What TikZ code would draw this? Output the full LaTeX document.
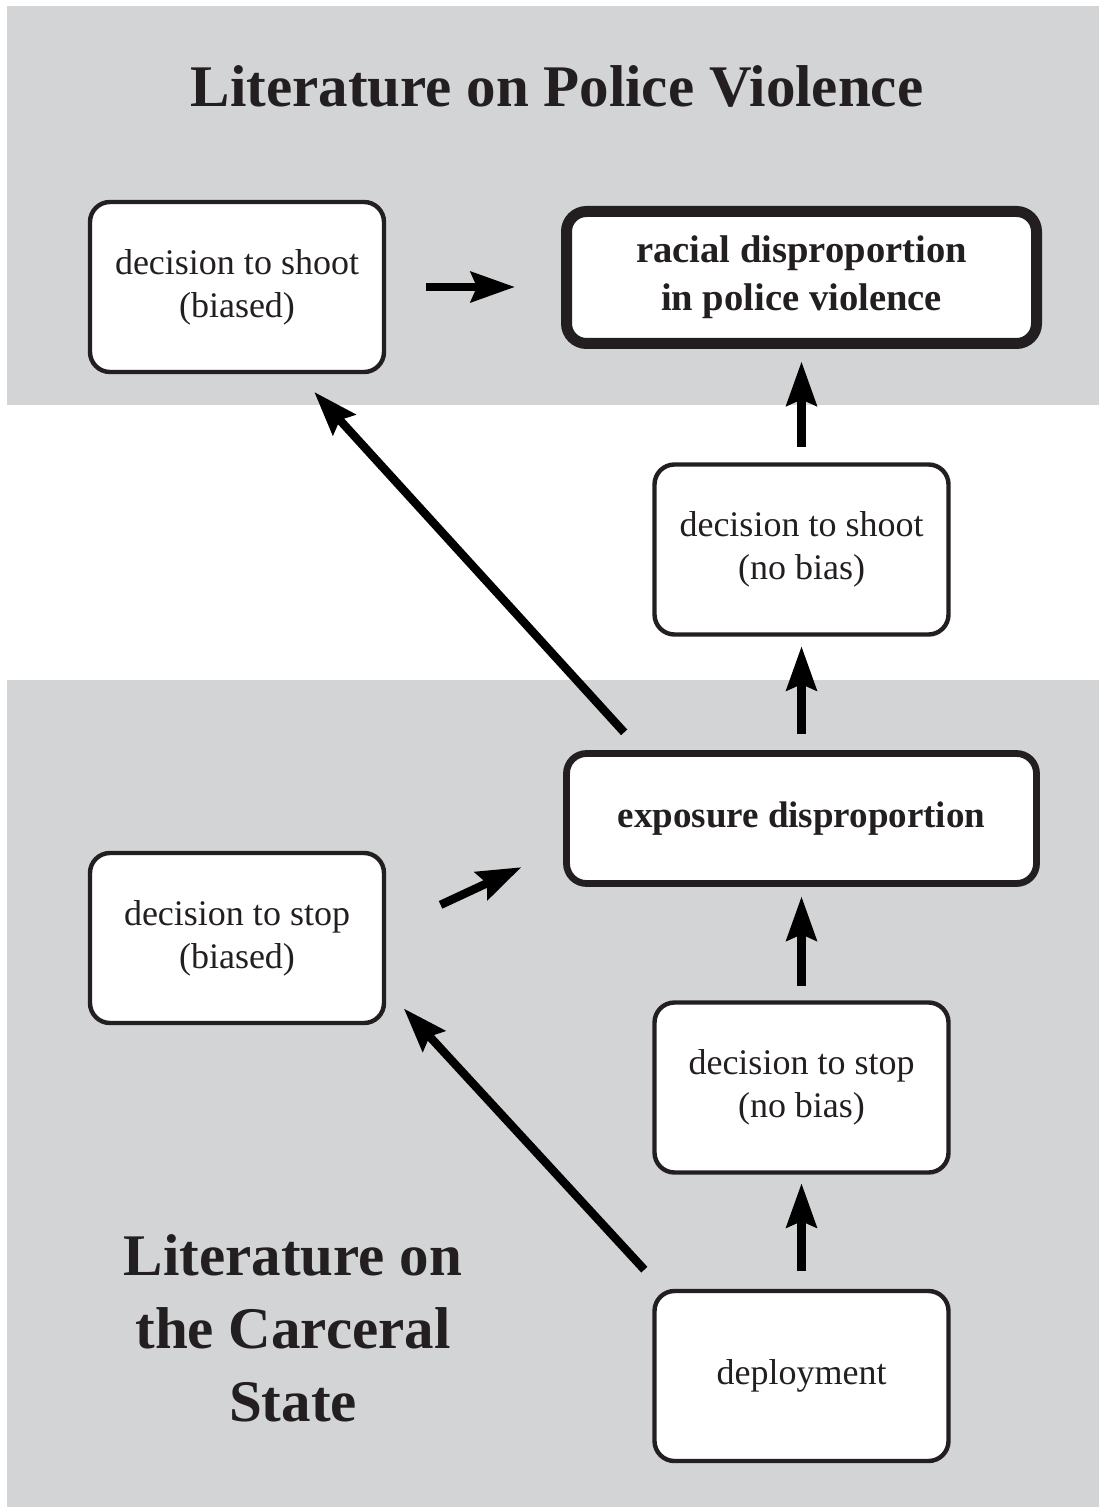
\documentclass[tikz,border=0pt]{standalone}
\usepackage{fontspec}
\setmainfont{Liberation Serif}
\usetikzlibrary{arrows.meta}
\definecolor{litgray}{HTML}{D3D4D5}
\definecolor{litink}{HTML}{231F20}
\tikzset{
  stepBox/.style={draw=litink, fill=white, rounded corners=10pt, line width=2.2pt, minimum width=147pt, minimum height=85pt, inner sep=0pt, align=center, text=litink, font=\fontsize{18}{21.5}\selectfont},
  keyBox/.style={stepBox, line width=3.4pt, minimum width=235pt, minimum height=65pt, font=\fontsize{18.5}{24}\selectfont\bfseries},
  outBox/.style={keyBox, line width=5.5pt, minimum height=66pt},
  litArrow/.style={-{Stealth[length=22pt,width=15pt,inset=3pt]}, line width=4.2pt, draw=black},
  litTitle/.style={font=\fontsize{29.5}{36.5}\selectfont\bfseries, text=litink, align=center}
}

\begin{document}
\begin{tikzpicture}[x=0.5pt, y=-0.5pt]
  \useasboundingbox (0,0) rectangle (1099,1507);
  % the two bands of literature
  \fill[litgray] (7,6) rectangle (1099,405);
  \fill[litgray] (7,680) rectangle (1099,1507);

  \node[litTitle] (policeLit) at (557,86) {Literature on Police Violence};
  \node[litTitle] (carceralLit) at (293,1328) {Literature on\\ the Carceral\\ State};

  \node[stepBox] (shootB) at (237,287) {decision to shoot\\ (biased)};
  \node[outBox, font=\fontsize{19.3}{24}\selectfont\bfseries] (racial) at (801.5,277.5) {racial disproportion\\ in police violence};
  \node[stepBox] (shootN) at (801.5,549.5) {decision to shoot\\ (no bias)};
  \node[keyBox] (exposure) at (801.5,818.5) {exposure disproportion};
  \node[stepBox] (stopB) at (237,938) {decision to stop\\ (biased)};
  \node[stepBox] (stopN) at (801.5,1087.5) {decision to stop\\ (no bias)};
  \node[stepBox] (deploy) at (801.5,1376) {deployment};

  \draw[litArrow, shorten <=20pt, shorten >=23pt] (shootB.east) -- (shootB.east -| racial.west);
  \draw[litArrow, shorten <=7.75pt, shorten >=6.25pt] (shootN.north) -- (racial.south);
  \draw[litArrow, shorten <=8.25pt, shorten >=4.75pt] (exposure.north) -- (shootN.south);
  \draw[litArrow, shorten <=12pt, shorten >=12pt] (exposure.157) -- (shootB.305);
  \draw[litArrow, shorten <=30pt, shorten >=23pt] (stopB.3) -- (exposure.187);
  \draw[litArrow, shorten <=7.25pt, shorten >=4.75pt] (stopN.north) -- (exposure.south);
  \draw[litArrow, shorten <=9pt, shorten >=4.25pt] (deploy.north) -- (stopN.south);
  \draw[litArrow, shorten <=13pt, shorten >=13pt] (deploy.148) -- (stopB.341);
\end{tikzpicture}
\end{document}
